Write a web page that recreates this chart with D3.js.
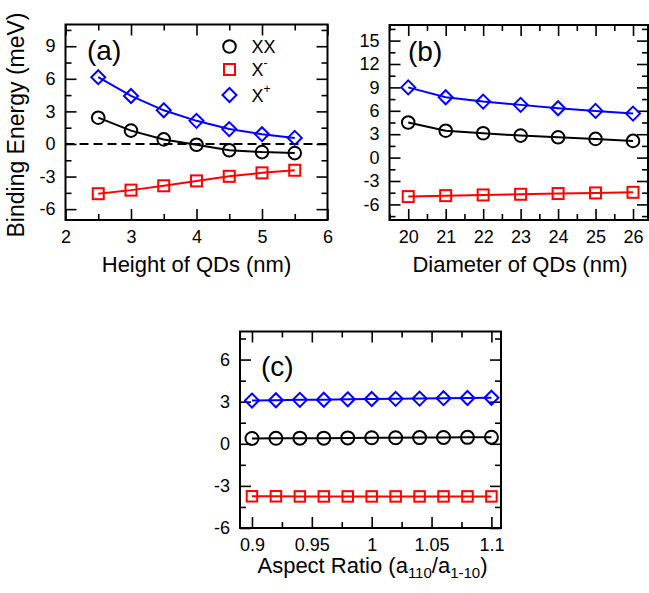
<!DOCTYPE html>
<html><head><meta charset="utf-8">
<script src="https://cdn.jsdelivr.net/npm/d3@7"></script>
<style>body{margin:0;background:#fff}svg{display:block}text{font-family:"Liberation Sans",Arial,sans-serif}</style>
</head><body><svg id="c" width="649" height="593"></svg>
<script>
// ---- data ----
const heightX = [2.5, 3, 3.5, 4, 4.5, 5, 5.5];
const heightXX = [2.42, 1.23, 0.42, -0.07, -0.58, -0.75, -0.84];
const heightXminus = [-4.58, -4.25, -3.85, -3.4, -2.98, -2.66, -2.42];
const heightXplus = [6.15, 4.42, 3.1, 2.13, 1.37, 0.9, 0.56];

const diamX = [20, 21, 22, 23, 24, 25, 26];
const diamXX = [4.5, 3.45, 3.12, 2.82, 2.6, 2.4, 2.14];
const diamXminus = [-5.0, -4.88, -4.79, -4.7, -4.61, -4.53, -4.45];
const diamXplus = [9.0, 7.74, 7.18, 6.76, 6.33, 5.99, 5.64];

const arX = [0.9, 0.92, 0.94, 0.96, 0.98, 1.0, 1.02, 1.04, 1.06, 1.08, 1.1];
const arXX = [0.38, 0.39, 0.4, 0.4, 0.42, 0.43, 0.43, 0.44, 0.45, 0.46, 0.47];
const arXminus = [-3.74, -3.74, -3.75, -3.75, -3.75, -3.75, -3.75, -3.75, -3.75, -3.75, -3.75];
const arXplus = [3.08, 3.1, 3.13, 3.14, 3.17, 3.19, 3.2, 3.22, 3.25, 3.26, 3.28];

const ticksA_x = [2, 3, 4, 5, 6];
const ticksA_y = [-6, -3, 0, 3, 6, 9];
const ticksB_x = [20, 21, 22, 23, 24, 25, 26];
const ticksB_y = [-6, -3, 0, 3, 6, 9, 12, 15];
const ticksC_x = [0.9, 0.95, 1.0, 1.05, 1.1];
const ticksC_y = [-6, -3, 0, 3, 6];

const seriesNames = ["XX", "X-", "X+"];
const colors = {"XX": "#000000", "X-": "#ff0000", "X+": "#0000ff"};

const svg = d3.select("#c");

function minorTicks(lo, hi, step) {
  const out = [];
  for (let v = lo; v <= hi + 1e-9; v += step) out.push(+v.toFixed(6));
  return out;
}

function panel(cfg) {
  const g = svg.append("g");
  const x = d3.scaleLinear().domain(cfg.xd).range([cfg.x0, cfg.x1]);
  const y = d3.scaleLinear().domain(cfg.yd).range([cfg.y1, cfg.y0]);
  const fmt = d => String(+d.toFixed(3));
  const minorX = minorTicks(cfg.xmin[0], cfg.xmin[1], cfg.xmin[2]).filter(v => !cfg.xt.some(t => Math.abs(t - v) < 1e-6));
  const minorY = minorTicks(cfg.ymin[0], cfg.ymin[1], cfg.ymin[2]).filter(v => !cfg.yt.some(t => Math.abs(t - v) < 1e-6));

  const styleAx = sel => { sel.select(".domain").remove(); sel.selectAll("line").attr("stroke", "#000").attr("stroke-width", 1.6); sel.selectAll("text").attr("font-size", 18).attr("fill", "#000").attr("font-family", '"Liberation Sans",Arial,sans-serif'); };

  // bottom
  g.append("g").attr("transform", `translate(0,${cfg.y1})`).call(d3.axisBottom(x).tickValues(cfg.xt).tickFormat(fmt).tickSize(-11).tickPadding(10)).call(styleAx);
  g.append("g").attr("transform", `translate(0,${cfg.y1})`).call(d3.axisBottom(x).tickValues(minorX).tickFormat("").tickSize(-6)).call(styleAx);
  // top
  g.append("g").attr("transform", `translate(0,${cfg.y0})`).call(d3.axisTop(x).tickValues(cfg.xt).tickFormat("").tickSize(-11)).call(styleAx);
  g.append("g").attr("transform", `translate(0,${cfg.y0})`).call(d3.axisTop(x).tickValues(minorX).tickFormat("").tickSize(-6)).call(styleAx);
  // left
  g.append("g").attr("transform", `translate(${cfg.x0},0)`).call(d3.axisLeft(y).tickValues(cfg.yt).tickFormat(fmt).tickSize(-11).tickPadding(10)).call(styleAx);
  g.append("g").attr("transform", `translate(${cfg.x0},0)`).call(d3.axisLeft(y).tickValues(minorY).tickFormat("").tickSize(-6)).call(styleAx);
  // right
  g.append("g").attr("transform", `translate(${cfg.x1},0)`).call(d3.axisRight(y).tickValues(cfg.yt).tickFormat("").tickSize(-11)).call(styleAx);
  g.append("g").attr("transform", `translate(${cfg.x1},0)`).call(d3.axisRight(y).tickValues(minorY).tickFormat("").tickSize(-6)).call(styleAx);

  if (cfg.zeroLine) {
    g.append("line").attr("x1", cfg.x0).attr("x2", cfg.x1).attr("y1", y(0)).attr("y2", y(0))
      .attr("stroke", "#000").attr("stroke-width", 2).attr("stroke-dasharray", "9,5");
  }

  const line = d3.line().x(d => x(d[0])).y(d => y(d[1]));
  cfg.series.forEach(s => {
    const pts = cfg.xs.map((v, i) => [v, s.vals[i]]);
    const col = colors[s.name];
    g.append("path").attr("d", line(pts)).attr("fill", "none").attr("stroke", col).attr("stroke-width", 2);
    pts.forEach(p => marker(g, s.name, x(p[0]), y(p[1]), cfg.ms));
  });

  g.append("rect").attr("x", cfg.x0).attr("y", cfg.y0).attr("width", cfg.x1 - cfg.x0).attr("height", cfg.y1 - cfg.y0)
    .attr("fill", "none").attr("stroke", "#000").attr("stroke-width", 2);

  g.append("text").attr("x", cfg.lab[0]).attr("y", cfg.lab[1]).attr("font-size", 28).text(cfg.label);
  return {g, x, y};
}

function marker(g, name, cx, cy, ms) {
  const col = colors[name];
  if (name === "XX") {
    g.append("circle").attr("cx", cx).attr("cy", cy).attr("r", ms.r).attr("fill", "none").attr("stroke", col).attr("stroke-width", 2);
  } else if (name === "X-") {
    g.append("rect").attr("x", cx - ms.s / 2).attr("y", cy - ms.s / 2).attr("width", ms.s).attr("height", ms.s).attr("fill", "none").attr("stroke", col).attr("stroke-width", 2);
  } else {
    const d = ms.d;
    g.append("path").attr("d", `M${cx},${cy - d}L${cx + d},${cy}L${cx},${cy + d}L${cx - d},${cy}Z`).attr("fill", "none").attr("stroke", col).attr("stroke-width", 2);
  }
}

// Panel (a)
panel({xd: [2, 6], yd: [-7, 11], x0: 65.5, x1: 327.5, y0: 24.5, y1: 220,
  xt: ticksA_x, yt: ticksA_y, xmin: [2, 6, 0.5], ymin: [-6, 10.5, 1.5], zeroLine: true,
  xs: heightX, series: [{name: "XX", vals: heightXX}, {name: "X-", vals: heightXminus}, {name: "X+", vals: heightXplus}],
  ms: {r: 6.3, s: 11, d: 7}, label: "(a)", lab: [87, 60]});

// Panel (b)
panel({xd: [19.5, 26.4], yd: [-8, 17], x0: 389.5, x1: 648, y0: 25, y1: 220,
  xt: ticksB_x, yt: ticksB_y, xmin: [19.5, 26.4, 0.5], ymin: [-7.5, 16.5, 1.5], zeroLine: false,
  xs: diamX, series: [{name: "XX", vals: diamXX}, {name: "X-", vals: diamXminus}, {name: "X+", vals: diamXplus}],
  ms: {r: 6.3, s: 11, d: 7}, label: "(b)", lab: [408, 61]});

// Panel (c)
panel({xd: [0.89, 1.108], yd: [-6, 8], x0: 240, x1: 501, y0: 331.5, y1: 528,
  xt: ticksC_x, yt: ticksC_y, xmin: [0.9, 1.1, 0.025], ymin: [-4.5, 7.5, 1.5], zeroLine: false,
  xs: arX, series: [{name: "XX", vals: arXX}, {name: "X-", vals: arXminus}, {name: "X+", vals: arXplus}],
  ms: {r: 6.5, s: 10.5, d: 7}, label: "(c)", lab: [261, 376]});

// Axis titles
svg.append("text").attr("x", 196.5).attr("y", 271.5).attr("text-anchor", "middle").attr("font-size", 22).text("Height of QDs (nm)");
svg.append("text").attr("x", 520).attr("y", 271.5).attr("text-anchor", "middle").attr("font-size", 22).text("Diameter of QDs (nm)");
svg.append("text").attr("transform", "translate(24,125) rotate(-90)").attr("text-anchor", "middle").attr("font-size", 23).text("Binding Energy (meV)");
const tc = svg.append("text").attr("x", 372.5).attr("y", 573).attr("text-anchor", "middle").attr("font-size", 22);
tc.append("tspan").text("Aspect Ratio (a");
tc.append("tspan").attr("font-size", 15).attr("dy", 5).text("110");
tc.append("tspan").attr("dy", -5).text("/a");
tc.append("tspan").attr("font-size", 15).attr("dy", 5).text("1-10");
tc.append("tspan").attr("dy", -5).text(")");

// Legend (panel a)
const leg = svg.append("g");
const legY = [46.5, 69.5, 95];
seriesNames.forEach((n, i) => {
  marker(leg, n, 229.5, legY[i], {r: 6.3, s: 11, d: 7});
  const t = leg.append("text").attr("x", 251.5).attr("y", legY[i] + 6.5).attr("font-size", 18);
  t.append("tspan").text(n === "XX" ? "XX" : "X");
  if (n !== "XX") t.append("tspan").attr("font-size", 12).attr("dy", -9).text(n === "X-" ? "-" : "+");
});
</script></body></html>
